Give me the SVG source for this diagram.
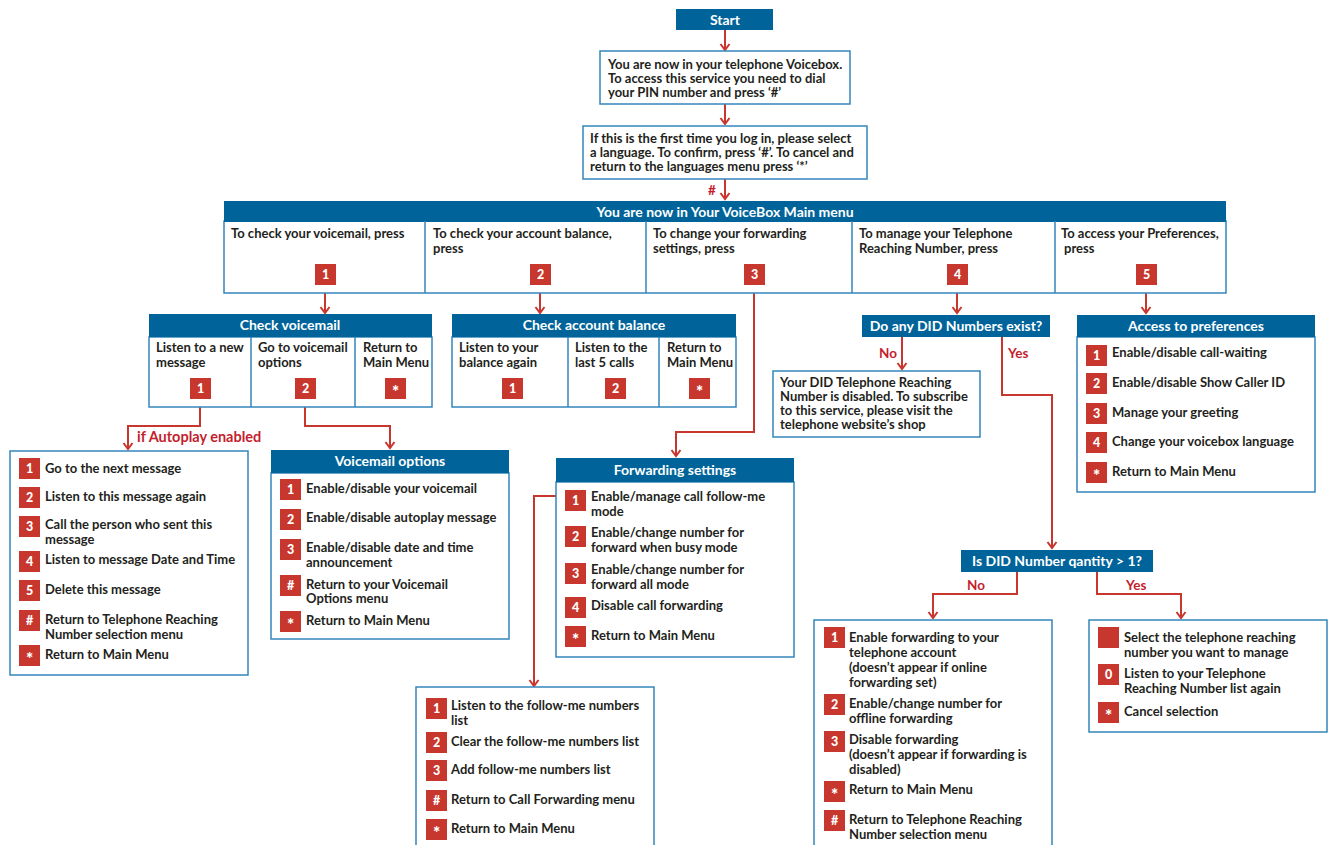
<svg xmlns="http://www.w3.org/2000/svg" width="1331" height="845" viewBox="0 0 1331 845">
<defs>
<style>
.hdr{fill:#00649A}
.box{fill:#fff;stroke:#3586BC;stroke-width:1.5}
.div{stroke:#3586BC;stroke-width:1.5}
text{font-family:Lato,"Liberation Sans",sans-serif;font-weight:700}
.t{font-size:13px;fill:#231F20}
.ht{font-size:14px;fill:#fff;text-anchor:middle}
.bg{fill:#C8372D}
.bt{font-size:12.5px;fill:#fff;text-anchor:middle;font-weight:900}
.st{font-size:17px;fill:#fff;text-anchor:middle;font-weight:900}
.lbl{font-size:13.5px;fill:#C41E2E}
.big{font-size:14.5px}
.conn{fill:none;stroke:#C8372D;stroke-width:2;marker-end:url(#ah)}
</style>
<marker id="ah" markerUnits="userSpaceOnUse" markerWidth="12" markerHeight="12" refX="7" refY="6" orient="auto">
<path d="M1,1.5 L7,6 L1,10.5" fill="none" stroke="#C8372D" stroke-width="2"/>
</marker>
</defs>

<g id="connectors">
<path class="conn" d="M725,30 V50"/>
<path class="conn" d="M725,104 V124"/>
<path class="conn" d="M725,179 V199"/>
<path class="conn" d="M325,293 V313"/>
<path class="conn" d="M540,293 V313"/>
<path class="conn" d="M754,293 V432 H676 V456"/>
<path class="conn" d="M957,293 V313"/>
<path class="conn" d="M1146,293 V313"/>
<path class="conn" d="M200,407 V426 H128 V449"/>
<path class="conn" d="M305,407 V426 H390 V448"/>
<path class="conn" d="M556,496 H534 V686"/>
<path class="conn" d="M902,337 V369"/>
<path class="conn" d="M1002,337 V395 H1052 V548"/>
<path class="conn" d="M1017,572 V594 H933 V618"/>
<path class="conn" d="M1097,572 V594 H1181 V618"/>
<text class="lbl" x="708" y="195">#</text>
<text class="lbl big" x="137" y="442">if Autoplay enabled</text>
<text class="lbl" x="879" y="358">No</text>
<text class="lbl" x="1008" y="358">Yes</text>
<text class="lbl" x="967" y="590">No</text>
<text class="lbl" x="1126" y="590">Yes</text>
</g>

<g id="start">
<rect class="hdr" x="676" y="9" width="97" height="21"/>
<text class="ht" x="725" y="25">Start</text>
</g>

<g id="pin">
<rect class="box" x="600" y="51" width="250" height="53"/>
<text class="t" x="608" y="69">You are now in your telephone Voicebox.</text>
<text class="t" x="608" y="83">To access this service you need to dial</text>
<text class="t" x="608" y="97">your PIN number and press ‘#’</text>
</g>

<g id="language">
<rect class="box" x="583" y="126" width="284" height="53"/>
<text class="t" x="590" y="143">If this is the first time you log in, please select</text>
<text class="t" x="590" y="157">a language. To confirm, press ‘#’. To cancel and</text>
<text class="t" x="590" y="171">return to the languages menu press ‘*’</text>
</g>

<g id="main-menu">
<rect class="box" x="224" y="221" width="1002" height="72"/>
<rect class="hdr" x="224" y="201" width="1002" height="21"/>
<text class="ht" x="725" y="217">You are now in Your VoiceBox Main menu</text>
<line class="div" x1="425" y1="221" x2="425" y2="293"/>
<line class="div" x1="646" y1="221" x2="646" y2="293"/>
<line class="div" x1="852" y1="221" x2="852" y2="293"/>
<line class="div" x1="1055" y1="221" x2="1055" y2="293"/>
<text class="t" x="231" y="238">To check your voicemail, press</text>
<text class="t" x="433" y="238">To check your account balance,</text>
<text class="t" x="433" y="253">press</text>
<text class="t" x="653" y="238">To change your forwarding</text>
<text class="t" x="653" y="253">settings, press</text>
<text class="t" x="859" y="238">To manage your Telephone</text>
<text class="t" x="859" y="253">Reaching Number, press</text>
<text class="t" x="1061" y="238">To access your Preferences,</text>
<text class="t" x="1064" y="253">press</text>
<rect class="bg" x="315" y="264" width="21" height="21"/><text class="bt" x="325.5" y="279">1</text>
<rect class="bg" x="530" y="264" width="21" height="21"/><text class="bt" x="540.5" y="279">2</text>
<rect class="bg" x="744" y="264" width="21" height="21"/><text class="bt" x="754.5" y="279">3</text>
<rect class="bg" x="947" y="264" width="21" height="21"/><text class="bt" x="957.5" y="279">4</text>
<rect class="bg" x="1136" y="264" width="21" height="21"/><text class="bt" x="1146.5" y="279">5</text>
</g>

<g id="check-voicemail">
<rect class="box" x="149" y="337" width="283" height="70"/>
<rect class="hdr" x="149" y="314" width="283" height="23"/>
<text class="ht" x="290" y="330">Check voicemail</text>
<line class="div" x1="251" y1="337" x2="251" y2="407"/>
<line class="div" x1="355" y1="337" x2="355" y2="407"/>
<text class="t" x="156" y="352">Listen to a new</text>
<text class="t" x="156" y="367">message</text>
<text class="t" x="258" y="352">Go to voicemail</text>
<text class="t" x="258" y="367">options</text>
<text class="t" x="363" y="352">Return to</text>
<text class="t" x="363" y="367">Main Menu</text>
<rect class="bg" x="190" y="378" width="21" height="21"/><text class="bt" x="200.5" y="393">1</text>
<rect class="bg" x="295" y="378" width="21" height="21"/><text class="bt" x="305.5" y="393">2</text>
<rect class="bg" x="385" y="378" width="21" height="21"/><text class="st" x="395.5" y="398">*</text>
</g>

<g id="check-balance">
<rect class="box" x="452" y="337" width="284" height="70"/>
<rect class="hdr" x="452" y="314" width="284" height="23"/>
<text class="ht" x="594" y="330">Check account balance</text>
<line class="div" x1="568" y1="337" x2="568" y2="407"/>
<line class="div" x1="659" y1="337" x2="659" y2="407"/>
<text class="t" x="459" y="352">Listen to your</text>
<text class="t" x="459" y="367">balance again</text>
<text class="t" x="575" y="352">Listen to the</text>
<text class="t" x="575" y="367">last 5 calls</text>
<text class="t" x="667" y="352">Return to</text>
<text class="t" x="667" y="367">Main Menu</text>
<rect class="bg" x="502" y="378" width="21" height="21"/><text class="bt" x="512.5" y="393">1</text>
<rect class="bg" x="605" y="378" width="21" height="21"/><text class="bt" x="615.5" y="393">2</text>
<rect class="bg" x="689" y="378" width="21" height="21"/><text class="st" x="699.5" y="398">*</text>
</g>

<g id="message-options">
<rect class="box" x="10" y="451" width="238" height="224"/>
<rect class="bg" x="19" y="458" width="21" height="21"/><text class="bt" x="29.5" y="473">1</text>
<text class="t" x="45" y="473">Go to the next message</text>
<rect class="bg" x="19" y="487" width="21" height="21"/><text class="bt" x="29.5" y="502">2</text>
<text class="t" x="45" y="501">Listen to this message again</text>
<rect class="bg" x="19" y="516" width="21" height="21"/><text class="bt" x="29.5" y="531">3</text>
<text class="t" x="45" y="529">Call the person who sent this</text>
<text class="t" x="45" y="544">message</text>
<rect class="bg" x="19" y="551" width="21" height="21"/><text class="bt" x="29.5" y="566">4</text>
<text class="t" x="45" y="564">Listen to message Date and Time</text>
<rect class="bg" x="19" y="580" width="21" height="21"/><text class="bt" x="29.5" y="595">5</text>
<text class="t" x="45" y="594">Delete this message</text>
<rect class="bg" x="19" y="610" width="21" height="21"/><text class="bt" x="29.5" y="625">#</text>
<text class="t" x="45" y="624">Return to Telephone Reaching</text>
<text class="t" x="45" y="639">Number selection menu</text>
<rect class="bg" x="19" y="645" width="21" height="21"/><text class="st" x="29.5" y="665">*</text>
<text class="t" x="45" y="659">Return to Main Menu</text>
</g>

<g id="voicemail-options">
<rect class="box" x="271" y="473" width="238" height="166"/>
<rect class="hdr" x="271" y="450" width="238" height="23"/>
<text class="ht" x="390" y="466">Voicemail options</text>
<rect class="bg" x="280" y="479" width="21" height="21"/><text class="bt" x="290.5" y="494">1</text>
<text class="t" x="306" y="493">Enable/disable your voicemail</text>
<rect class="bg" x="280" y="509" width="21" height="21"/><text class="bt" x="290.5" y="524">2</text>
<text class="t" x="306" y="522">Enable/disable autoplay message</text>
<rect class="bg" x="280" y="539" width="21" height="21"/><text class="bt" x="290.5" y="554">3</text>
<text class="t" x="306" y="552">Enable/disable date and time</text>
<text class="t" x="306" y="567">announcement</text>
<rect class="bg" x="280" y="575" width="21" height="21"/><text class="bt" x="290.5" y="590">#</text>
<text class="t" x="306" y="589">Return to your Voicemail</text>
<text class="t" x="306" y="603">Options menu</text>
<rect class="bg" x="280" y="611" width="21" height="21"/><text class="st" x="290.5" y="631">*</text>
<text class="t" x="306" y="625">Return to Main Menu</text>
</g>

<g id="forwarding-settings">
<rect class="box" x="556" y="482" width="238" height="175"/>
<rect class="hdr" x="556" y="458" width="238" height="24"/>
<text class="ht" x="675" y="475">Forwarding settings</text>
<rect class="bg" x="565" y="490" width="21" height="21"/><text class="bt" x="575.5" y="505">1</text>
<text class="t" x="591" y="501">Enable/manage call follow-me</text>
<text class="t" x="591" y="516">mode</text>
<rect class="bg" x="565" y="526" width="21" height="21"/><text class="bt" x="575.5" y="541">2</text>
<text class="t" x="591" y="537">Enable/change number for</text>
<text class="t" x="591" y="552">forward when busy mode</text>
<rect class="bg" x="565" y="563" width="21" height="21"/><text class="bt" x="575.5" y="578">3</text>
<text class="t" x="591" y="574">Enable/change number for</text>
<text class="t" x="591" y="589">forward all mode</text>
<rect class="bg" x="565" y="597" width="21" height="21"/><text class="bt" x="575.5" y="612">4</text>
<text class="t" x="591" y="610">Disable call forwarding</text>
<rect class="bg" x="565" y="626" width="21" height="21"/><text class="st" x="575.5" y="646">*</text>
<text class="t" x="591" y="640">Return to Main Menu</text>
</g>

<g id="follow-me">
<rect class="box" x="416" y="687" width="238" height="170"/>
<rect class="bg" x="426" y="698" width="21" height="21"/><text class="bt" x="436.5" y="713">1</text>
<text class="t" x="451" y="710">Listen to the follow-me numbers</text>
<text class="t" x="451" y="725">list</text>
<rect class="bg" x="426" y="732" width="21" height="21"/><text class="bt" x="436.5" y="747">2</text>
<text class="t" x="451" y="746">Clear the follow-me numbers list</text>
<rect class="bg" x="426" y="760" width="21" height="21"/><text class="bt" x="436.5" y="775">3</text>
<text class="t" x="451" y="774">Add follow-me numbers list</text>
<rect class="bg" x="426" y="790" width="21" height="21"/><text class="bt" x="436.5" y="805">#</text>
<text class="t" x="451" y="804">Return to Call Forwarding menu</text>
<rect class="bg" x="426" y="819" width="21" height="21"/><text class="st" x="436.5" y="839">*</text>
<text class="t" x="451" y="833">Return to Main Menu</text>
</g>

<g id="did-exist">
<rect class="hdr" x="862" y="315" width="188" height="22"/>
<text class="ht" x="956" y="331">Do any DID Numbers exist?</text>
</g>

<g id="did-disabled">
<rect class="box" x="773" y="371" width="207" height="66"/>
<text class="t" x="780" y="387">Your DID Telephone Reaching</text>
<text class="t" x="780" y="401">Number is disabled. To subscribe</text>
<text class="t" x="780" y="415">to this service, please visit the</text>
<text class="t" x="780" y="429">telephone website’s shop</text>
</g>

<g id="preferences">
<rect class="box" x="1077" y="337" width="238" height="155"/>
<rect class="hdr" x="1077" y="315" width="238" height="22"/>
<text class="ht" x="1196" y="331">Access to preferences</text>
<rect class="bg" x="1086" y="345" width="21" height="21"/><text class="bt" x="1096.5" y="360">1</text>
<text class="t" x="1112" y="357">Enable/disable call-waiting</text>
<rect class="bg" x="1086" y="373" width="21" height="21"/><text class="bt" x="1096.5" y="388">2</text>
<text class="t" x="1112" y="387">Enable/disable Show Caller ID</text>
<rect class="bg" x="1086" y="403" width="21" height="21"/><text class="bt" x="1096.5" y="418">3</text>
<text class="t" x="1112" y="417">Manage your greeting</text>
<rect class="bg" x="1086" y="432" width="21" height="21"/><text class="bt" x="1096.5" y="447">4</text>
<text class="t" x="1112" y="446">Change your voicebox language</text>
<rect class="bg" x="1086" y="462" width="21" height="21"/><text class="st" x="1096.5" y="482">*</text>
<text class="t" x="1112" y="476">Return to Main Menu</text>
</g>

<g id="did-quantity">
<rect class="hdr" x="961" y="550" width="192" height="22"/>
<text class="ht" x="1057" y="566">Is DID Number qantity &gt; 1?</text>
</g>

<g id="single-did">
<rect class="box" x="814" y="620" width="238" height="240"/>
<rect class="bg" x="824" y="627" width="21" height="21"/><text class="bt" x="834.5" y="642">1</text>
<text class="t" x="849" y="642">Enable forwarding to your</text>
<text class="t" x="849" y="657">telephone account</text>
<text class="t" x="849" y="672">(doesn’t appear if online</text>
<text class="t" x="849" y="687">forwarding set)</text>
<rect class="bg" x="824" y="694" width="21" height="21"/><text class="bt" x="834.5" y="709">2</text>
<text class="t" x="849" y="708">Enable/change number for</text>
<text class="t" x="849" y="723">offline forwarding</text>
<rect class="bg" x="824" y="731" width="21" height="21"/><text class="bt" x="834.5" y="746">3</text>
<text class="t" x="849" y="744">Disable forwarding</text>
<text class="t" x="849" y="759">(doesn’t appear if forwarding is</text>
<text class="t" x="849" y="774">disabled)</text>
<rect class="bg" x="824" y="781" width="21" height="21"/><text class="st" x="834.5" y="801">*</text>
<text class="t" x="849" y="794">Return to Main Menu</text>
<rect class="bg" x="824" y="810" width="21" height="21"/><text class="bt" x="834.5" y="825">#</text>
<text class="t" x="849" y="824">Return to Telephone Reaching</text>
<text class="t" x="849" y="839">Number selection menu</text>
</g>

<g id="multi-did">
<rect class="box" x="1089" y="620" width="238" height="112"/>
<rect class="bg" x="1098" y="627" width="21" height="21"/>
<text class="t" x="1124" y="642">Select the telephone reaching</text>
<text class="t" x="1124" y="657">number you want to manage</text>
<rect class="bg" x="1098" y="664" width="21" height="21"/><text class="bt" x="1108.5" y="679">0</text>
<text class="t" x="1124" y="678">Listen to your Telephone</text>
<text class="t" x="1124" y="693">Reaching Number list again</text>
<rect class="bg" x="1098" y="702" width="21" height="21"/><text class="st" x="1108.5" y="722">*</text>
<text class="t" x="1124" y="716">Cancel selection</text>
</g>
</svg>
